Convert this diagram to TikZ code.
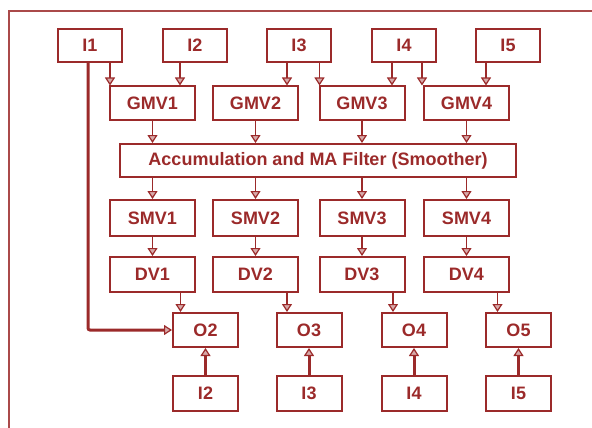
\documentclass[tikz,border=0pt]{standalone}
\usepackage{fontspec}
\setmainfont{Liberation Sans}
\usetikzlibrary{arrows.meta}
\definecolor{boxred}{RGB}{155,42,42}
\begin{document}
\begin{tikzpicture}[x=1pt,y=-1pt,
		blk/.style={draw=boxred, line width=2pt, inner sep=0pt, text=boxred,
			font=\fontsize{18}{20}\selectfont\bfseries},
		ibox/.style={blk, minimum width=64pt, minimum height=33pt},
		mbox/.style={blk, minimum width=85pt, minimum height=33pt},
		obox/.style={blk, minimum width=65pt, minimum height=34pt},
		arr/.style={draw=boxred, line width=1.7pt,
			-{Triangle[length=8pt, width=10pt, line width=1.2pt, fill=boxred!40]}},
		fat/.style={arr, line width=3pt}]
		\useasboundingbox (0,0) rectangle (592,428);
		\draw[boxred!85, line width=1.2pt] (9,428) -- (9,11) -- (592,11);

		\node[ibox] (I1) at (90,45.5) {I1};
		\node[ibox] (I2) at (195,45.5) {I2};
		\node[ibox] (I3) at (299,45.5) {I3};
		\node[ibox] (I4) at (404,45.5) {I4};
		\node[ibox] (I5) at (508,45.5) {I5};

		\node[mbox] (GMV1) at (152.5,103) {GMV1};
		\node[mbox] (GMV2) at (255.5,103) {GMV2};
		\node[mbox] (GMV3) at (362,103) {GMV3};
		\node[mbox] (GMV4) at (466.5,103) {GMV4};

		\node[blk, minimum width=396pt, minimum height=33pt] (acc) at (318,160.5)
			{Accumulation and MA Filter (Smoother)};

		\node[mbox, minimum height=36pt] (SMV1) at (152.5,218) {SMV1};
		\node[mbox, minimum height=36pt] (SMV2) at (255.5,218) {SMV2};
		\node[mbox, minimum height=36pt] (SMV3) at (362,218) {SMV3};
		\node[mbox, minimum height=36pt] (SMV4) at (466.5,218) {SMV4};

		\node[mbox, minimum height=35pt] (DV1) at (152.5,274.5) {DV1};
		\node[mbox, minimum height=35pt] (DV2) at (255.5,274.5) {DV2};
		\node[mbox, minimum height=35pt] (DV3) at (362,274.5) {DV3};
		\node[mbox, minimum height=35pt] (DV4) at (466.5,274.5) {DV4};

		\node[obox] (O2) at (205.5,330) {O2};
		\node[obox] (O3) at (309,330) {O3};
		\node[obox] (O4) at (414,330) {O4};
		\node[obox] (O5) at (518.5,330) {O5};

		\node[obox, minimum height=35pt] (B2) at (205.5,393.5) {I2};
		\node[obox, minimum height=35pt] (B3) at (309,393.5) {I3};
		\node[obox, minimum height=35pt] (B4) at (414,393.5) {I4};
		\node[obox, minimum height=35pt] (B5) at (518.5,393.5) {I5};

		\draw[arr] ([xshift=1pt]GMV1.north west |- I1.south) -- ([xshift=1pt]GMV1.north west);
		\draw[arr] ([xshift=-15pt]I2.south) -- ([xshift=-15pt]I2.south |- GMV1.north);
		\draw[arr] ([xshift=-12pt]I3.south) -- ([xshift=-12pt]I3.south |- GMV2.north);
		\draw[arr] ([xshift=1pt]GMV3.north west |- I3.south) -- ([xshift=1pt]GMV3.north west);
		\draw[arr] ([xshift=-12pt]I4.south) -- ([xshift=-12pt]I4.south |- GMV3.north);
		\draw[arr] ([xshift=-1pt]GMV4.north west |- I4.south) -- ([xshift=-1pt]GMV4.north west);
		\draw[arr] ([xshift=-22pt]I5.south) -- ([xshift=-22pt]I5.south |- GMV4.north);

		\foreach \k in {1,2,3,4}{
			\draw[arr] (GMV\k.south) -- (GMV\k.south |- acc.north);
			\draw[arr] (acc.south -| SMV\k.north) -- (SMV\k.north);
			\draw[arr] (SMV\k.south) -- (DV\k.north);
		}

		\draw[arr] ([xshift=-25pt]O2.north |- DV1.south) -- ([xshift=-25pt]O2.north);
		\draw[arr] ([xshift=-22pt]O3.north |- DV2.south) -- ([xshift=-22pt]O3.north);
		\draw[arr] ([xshift=-21pt]O4.north |- DV3.south) -- ([xshift=-21pt]O4.north);
		\draw[arr] ([xshift=-21pt]O5.north |- DV4.south) -- ([xshift=-21pt]O5.north);

		\draw[fat, rounded corners=2pt] ([xshift=-2pt]I1.south) |- (O2.west);
		\foreach \k in {2,3,4,5}
			\draw[fat] (B\k.north) -- (O\k.south);
	\end{tikzpicture}
\end{document}
